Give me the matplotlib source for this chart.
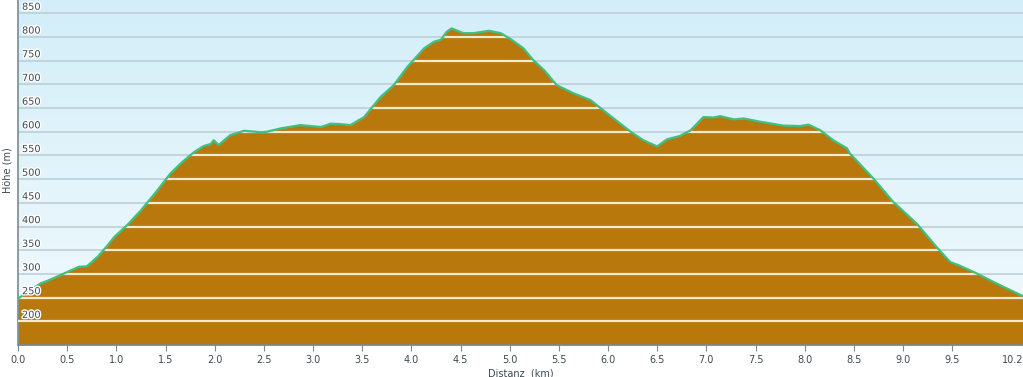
import numpy as np
import matplotlib.pyplot as plt
import matplotlib.patheffects as pe
from matplotlib.transforms import blended_transform_factory

# elevation profile
distance_km = [0.00, 0.12, 0.23, 0.33, 0.50, 0.62, 0.70, 0.81, 0.91, 0.98,
               1.11, 1.25, 1.42, 1.55, 1.67, 1.79, 1.89, 1.96, 1.99, 2.04,
               2.16, 2.30, 2.47, 2.53, 2.67, 2.87, 3.08, 3.18, 3.28, 3.38,
               3.52, 3.69, 3.82, 3.96, 4.13, 4.23, 4.30, 4.36, 4.41, 4.53,
               4.63, 4.79, 4.91, 5.02, 5.14, 5.24, 5.35, 5.48, 5.65, 5.82,
               5.99, 6.23, 6.36, 6.50, 6.60, 6.73, 6.84, 6.97, 7.07, 7.14,
               7.28, 7.38, 7.55, 7.78, 7.95, 8.04, 8.16, 8.29, 8.43, 8.46,
               8.70, 8.90, 9.14, 9.34, 9.48, 9.57, 9.75, 9.92, 10.10, 10.22]
elevation_m = [248, 265, 280, 288, 304, 315, 316, 336, 360, 378,
               403, 434, 477, 512, 536, 557, 570, 574, 582, 572,
               593, 602, 599, 600, 607, 614, 610, 617, 616, 614,
               631, 674, 698, 737, 776, 790, 794, 811, 818, 808,
               808, 813, 808, 794, 776, 751, 730, 698, 681, 667,
               639, 600, 582, 569, 584, 591, 603, 631, 630, 633,
               626, 628, 621, 613, 612, 615, 603, 582, 565, 554,
               501, 452, 406, 357, 325, 318, 301, 283, 265, 253]

x_ticks = [0.0, 0.5, 1.0, 1.5, 2.0, 2.5, 3.0, 3.5, 4.0, 4.5, 5.0,
           5.5, 6.0, 6.5, 7.0, 7.5, 8.0, 8.5, 9.0, 9.5, 10.22]
x_tick_labels = ["0.0", "0.5", "1.0", "1.5", "2.0", "2.5", "3.0", "3.5",
                 "4.0", "4.5", "5.0", "5.5", "6.0", "6.5", "7.0", "7.5",
                 "8.0", "8.5", "9.0", "9.5", "10.2"]
y_levels = [200, 250, 300, 350, 400, 450, 500, 550, 600, 650, 700, 750, 800, 850]

x_min, x_max = 0.0, 10.22
y_min, y_max = 150, 878

text_col = "#3c4a52"
fill_col = "#b8780c"
line_col = "#3fbf80"

fig = plt.figure(figsize=(10.23, 3.77), dpi=100)
ax = fig.add_axes([18 / 1023, 32 / 377, 1 - 18 / 1023, 1 - 32 / 377])
ax.set_xlim(x_min, x_max)
ax.set_ylim(y_min, y_max)

# light blue gradient background
grad = np.linspace(0, 1, 256).reshape(-1, 1)
ax.imshow(grad, extent=[x_min, x_max, y_min, y_max], aspect="auto",
          cmap=plt.matplotlib.colors.LinearSegmentedColormap.from_list(
              "bg", ["#d3eef9", "#f2fafd"]), origin="upper", zorder=0)

# grid behind the profile
for lv in y_levels:
    ax.axhline(lv, color="#bfd2da", lw=1.3, zorder=1)

poly = ax.fill_between(distance_km, elevation_m, y_min, color=fill_col,
                       lw=0, zorder=2)

# lighter grid lines on top of the filled area
path = poly.get_paths()[0]
for lv in y_levels:
    ln = ax.axhline(lv, color="#f3ead2", lw=1.6, zorder=3)
    ln.set_clip_path(path, ax.transData)

ax.plot(distance_km, elevation_m, color=line_col, lw=1.6, zorder=4)

# y labels sit inside the plot, above each grid line
trans = blended_transform_factory(ax.transAxes, ax.transData)
for lv in y_levels:
    ax.text(0.004, lv + 3, str(lv), transform=trans, ha="left", va="bottom",
            fontsize=7, color=text_col, zorder=5,
            path_effects=[pe.withStroke(linewidth=2, foreground="white")])

ax.set_yticks([])
ax.set_xticks(x_ticks)
ax.set_xticklabels(x_tick_labels, fontsize=7, color=text_col)
ax.get_xticklabels()[-1].set_ha("right")
ax.tick_params(axis="x", length=4, color="#7a8a92", pad=3)

for s in ["top", "right"]:
    ax.spines[s].set_visible(False)
ax.spines["left"].set_color("#7a8a92")
ax.spines["bottom"].set_color("#7a8a92")
ax.spines["left"].set_linewidth(1.2)
ax.spines["bottom"].set_linewidth(1.2)

ax.set_xlabel("Distanz  (km)", fontsize=7, color=text_col, labelpad=3)
fig.text(8 / 1023, 1 - 170 / 377, "Höhe (m)", rotation=90, fontsize=7,
         color=text_col, ha="center", va="center")

fig.savefig("out.png", dpi=100)
